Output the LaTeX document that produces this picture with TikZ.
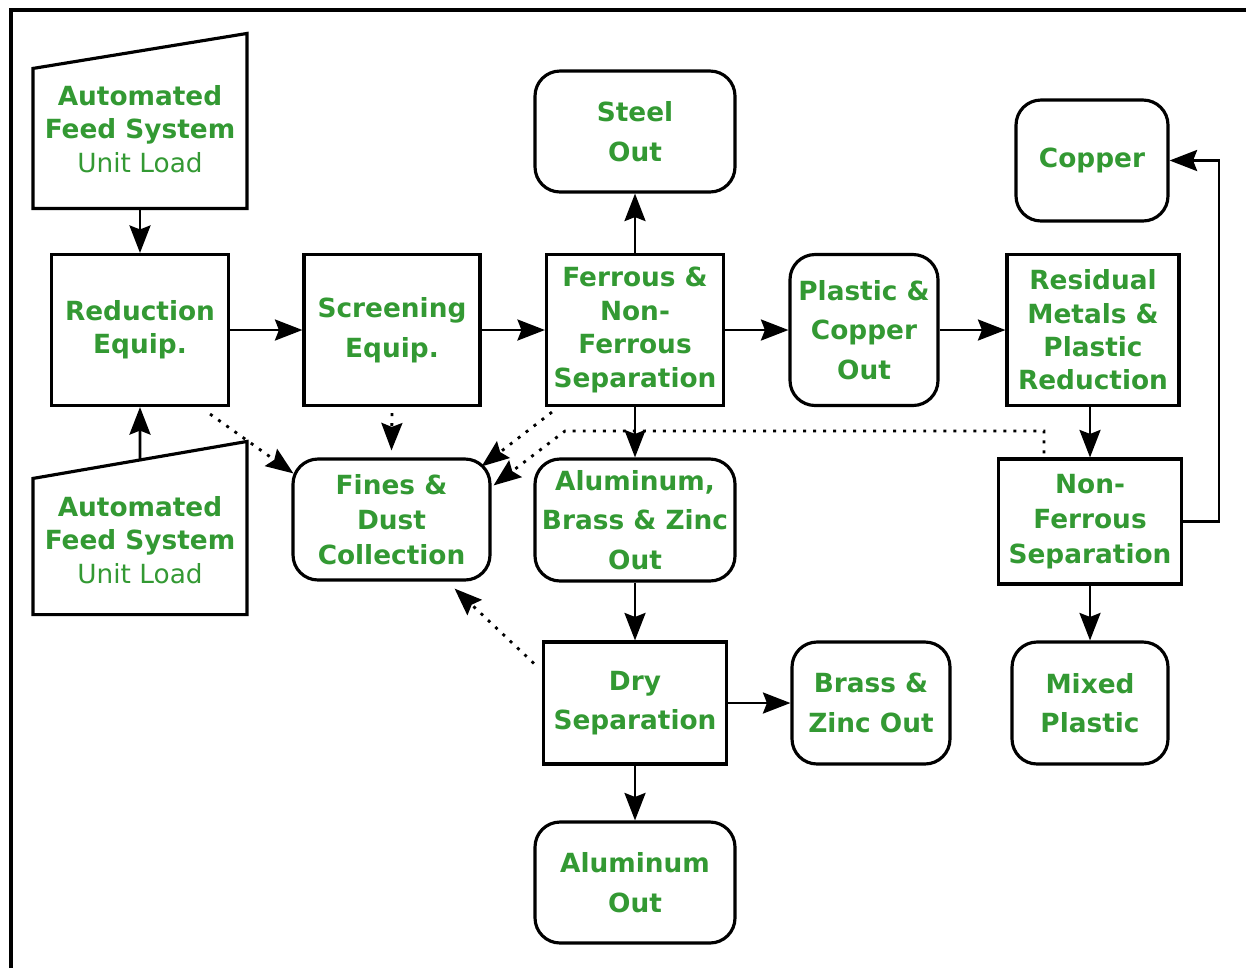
\documentclass[tikz,border=0pt]{standalone}
\usepackage{fontspec}
\setmainfont{DejaVu Sans}
\usetikzlibrary{arrows.meta, calc}
\definecolor{labelgreen}{RGB}{51,153,51}
\tikzset{
    every node/.style={text=labelgreen, align=center, inner sep=0pt, line width=1.8pt,
        font=\bfseries\fontsize{15}{20}\selectfont},
    unit/.style={draw, rectangle},
    outlet/.style={draw, rectangle, rounded corners=0.5cm},
    feed/.style={rectangle},
    tight/.style={font=\bfseries\fontsize{15}{19}\selectfont},
    loose/.style={font=\bfseries\fontsize{15}{22.5}\selectfont},
    flow/.style={line width=1.6pt, -{Stealth[length=5.5mm, width=4.2mm, inset=0.8mm]}},
    dust/.style={flow, dash pattern=on 1.7pt off 4pt},
    outline/.style={line width=1.8pt},
}

\begin{document}
\begin{tikzpicture}[x=0.02cm, y=-0.02cm]
    \useasboundingbox (0,0) rectangle (1246,968);
    \draw[outline] (11,968) -- (11,10) -- (1246,10);

    % feeds
    \node[feed, tight, minimum width=4.22cm, minimum height=3.12cm] (feedA) at (140,129)
        {Automated\\Feed System\\\mdseries Unit Load};
    \coordinate (aNW) at ($(feedA.north west)+(0,19)$);
    \coordinate (aNE) at ($(feedA.north east)+(0,-16)$);
    \draw[outline] (feedA.south west) -- (feedA.south east) -- (aNE) -- (aNW) -- cycle;

    \node[feed, tight, minimum width=4.22cm, minimum height=2.92cm] (feedB) at (140,540)
        {Automated\\Feed System\\\mdseries Unit Load};
    \coordinate (bNW) at ($(feedB.north west)+(0,13)$);
    \coordinate (bNE) at ($(feedB.north east)+(0,-24)$);
    \draw[outline] (feedB.south west) -- (feedB.south east) -- (bNE) -- (bNW) -- cycle;

    % process units
    \node[unit, tight, minimum width=3.54cm, minimum height=3.02cm] (reduction) at (140,330) {Reduction\\Equip.};
    \node[unit, loose, minimum width=3.52cm, minimum height=3.02cm] (screening) at (392,330) {Screening\\Equip.};
    \node[unit, tight, minimum width=3.54cm, minimum height=3.02cm] (ferrous) at (635,330) {Ferrous \&\\Non-\\Ferrous\\Separation};
    \node[unit, tight, minimum width=3.44cm, minimum height=3.02cm] (residual) at (1093,330) {Residual\\Metals \&\\Plastic\\Reduction};
    \node[unit, minimum width=3.66cm, minimum height=2.5cm] (nonferrous) at (1090,521.5) {Non-\\Ferrous\\Separation};
    \node[unit, loose, minimum width=3.66cm, minimum height=2.44cm] (drysep) at (635,703) {Dry\\Separation};

    % outlets
    \node[outlet, loose, minimum width=4cm, minimum height=2.42cm] (steel) at (635,131.5) {Steel\\Out};
    \node[outlet, loose, minimum width=2.96cm, minimum height=3.02cm] (plastic) at (864,330) {Plastic \&\\Copper\\Out};
    \node[outlet, minimum width=3.04cm, minimum height=2.42cm] (copper) at (1092,160.5) {Copper};
    \node[outlet, loose, minimum width=3.12cm, minimum height=2.44cm] (mixed) at (1090,703) {Mixed\\Plastic};
    \node[outlet, minimum width=3.94cm, minimum height=2.42cm] (fines) at (391.5,519.5) {Fines \&\\Dust\\Collection};
    \node[outlet, loose, minimum width=4cm, minimum height=2.44cm] (abz) at (635,520) {Aluminum,\\Brass \& Zinc\\Out};
    \node[outlet, loose, minimum width=3.16cm, minimum height=2.44cm] (brass) at (871,703) {Brass \&\\Zinc Out};
    \node[outlet, loose, minimum width=4cm, minimum height=2.42cm] (alum) at (635,882.5) {Aluminum\\Out};

    \path[flow]
        (feedA) edge (reduction)
        ($(bNW)!.5!(bNE)$) edge (reduction.south)
        (reduction) edge (screening)
        (screening) edge (ferrous)
        (ferrous) edge (steel)
            edge (plastic)
            edge (abz)
        (plastic) edge (residual)
        (residual.south -| nonferrous) edge (nonferrous)
        (nonferrous) edge (mixed)
        (abz) edge (drysep)
        (drysep) edge (brass)
            edge (alum);
    \draw[flow] (nonferrous.east) -- ++(36,0) |- (copper.east);

    % dust lines
    \coordinate (dustbend) at (565,431);
    \draw[dust] ($(reduction.south east)+(-20,7)$) -- ($(fines.north west)+(2,16)$);
    \draw[dust] ($(screening.south)+(0,6)$) -- ($(fines.north)+(0,-7)$);
    \draw[dust] ($(ferrous.south west)+(7,5)$) -- ($(fines.north east)+(-10,9)$);
    \draw[dust] ($(nonferrous.north)+(-46,-4)$) |- (dustbend) -- ($(fines.north east)+(2,28)$);
    \draw[dust] ($(drysep.north west)+(-8,23)$) -- ($(fines.south east)+(-37,7)$);
\end{tikzpicture}
\end{document}
